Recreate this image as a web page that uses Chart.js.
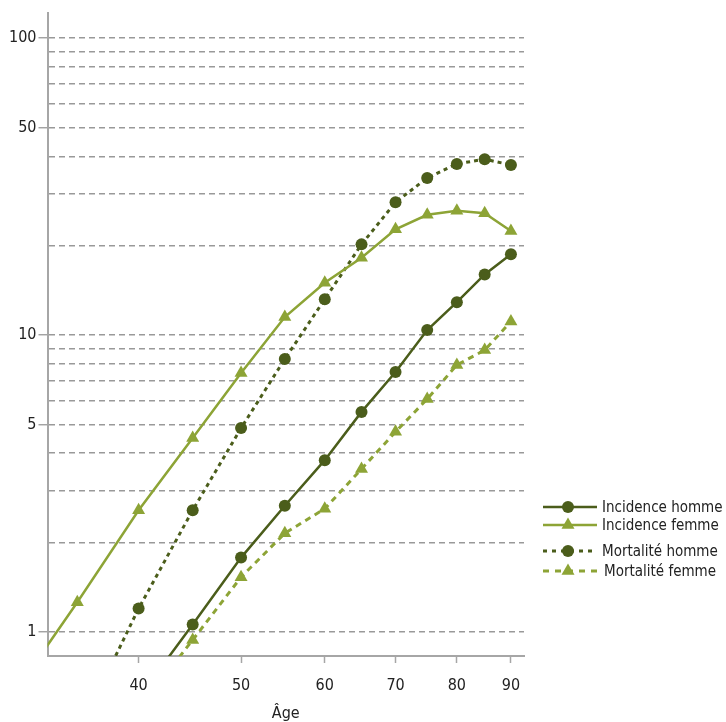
<!DOCTYPE html>
<html>
<head>
<meta charset="utf-8">
<style>
  html, body { margin: 0; padding: 0; background: #ffffff; }
  #wrap { width: 726px; height: 722px; }
</style>
<script src="https://cdn.jsdelivr.net/npm/chart.js@4.4.1/dist/chart.umd.min.js"></script>
</head>
<body>
<div id="wrap"><canvas id="c" width="726" height="722"></canvas></div>
<script>
const ages = [30, 35, 40, 45, 50, 55, 60, 65, 70, 75, 80, 85, 90];
const incidenceHomme = [null, null, 0.60, 1.06, 1.78, 2.66, 3.79, 5.51, 7.51, 10.4, 12.9, 16.0, 18.7];
const incidenceFemme = [0.57, 1.26, 2.57, 4.50, 7.45, 11.5, 15.0, 18.2, 22.7, 25.4, 26.2, 25.7, 22.4];
const mortaliteHomme = [null, 0.45, 1.20, 2.57, 4.86, 8.30, 13.2, 20.2, 28.0, 33.8, 37.7, 39.1, 37.4];
const mortaliteFemme = [null, null, 0.55, 0.94, 1.53, 2.15, 2.60, 3.54, 4.72, 6.09, 7.93, 8.90, 11.1];
const seriesNames = ['Incidence homme', 'Incidence femme', 'Mortalité homme', 'Mortalité femme'];
const xTicks = [40, 50, 60, 70, 80, 90];
const yTicks = [1, 2, 3, 4, 5, 6, 7, 8, 9, 10, 20, 30, 40, 50, 60, 70, 80, 90, 100];
const yLabels = [1, 5, 10, 50, 100];
const xTitle = 'Âge';

const DARK = '#4b5d1b';
const LIGHT = '#8da436';
const FONT = '"DejaVu Sans Condensed", "DejaVu Sans", sans-serif';

function pts(vals) {
  const out = [];
  vals.forEach((v, i) => { if (v !== null) out.push({ x: ages[i], y: v }); });
  return out;
}

const styles = [
  { color: DARK, point: 'circle', radius: 6, dash: [], width: 2.5 },
  { color: LIGHT, point: 'triangle', radius: 7.5, dash: [], width: 2.5 },
  { color: DARK, point: 'circle', radius: 6, dash: [4, 4], width: 3 },
  { color: LIGHT, point: 'triangle', radius: 7.5, dash: [6, 5], width: 3 }
];
const allData = [incidenceHomme, incidenceFemme, mortaliteHomme, mortaliteFemme];

const datasets = allData.map((vals, i) => ({
  label: seriesNames[i],
  data: pts(vals),
  borderColor: styles[i].color,
  backgroundColor: styles[i].color,
  borderWidth: styles[i].width,
  borderDash: styles[i].dash,
  pointStyle: styles[i].point,
  pointRadius: styles[i].radius,
  pointBorderWidth: 0,
  pointBackgroundColor: styles[i].color,
  tension: 0,
  clip: 0
}));

const legendPlugin = {
  id: 'customLegend',
  afterDraw(chart) {
    const ctx = chart.ctx;
    const rows = [507, 525, 551, 571];
    const x1 = 543, x2 = 597, mx = 568;
    ctx.save();
    rows.forEach((y, i) => {
      const s = styles[i];
      ctx.strokeStyle = s.color;
      ctx.lineWidth = s.width;
      ctx.setLineDash(i === 2 ? [4, 5] : (i === 3 ? [6, 6] : []));
      ctx.beginPath();
      ctx.moveTo(x1, y);
      ctx.lineTo(x2, y);
      ctx.stroke();
      ctx.setLineDash([]);
      ctx.fillStyle = s.color;
      ctx.beginPath();
      if (s.point === 'circle') {
        ctx.arc(mx, y, s.radius, 0, Math.PI * 2);
      } else {
        const r = s.radius;
        ctx.moveTo(mx, y - r);
        ctx.lineTo(mx + r * Math.cos(Math.PI / 6), y + r * 0.5);
        ctx.lineTo(mx - r * Math.cos(Math.PI / 6), y + r * 0.5);
        ctx.closePath();
      }
      ctx.fill();
      ctx.fillStyle = '#222222';
      ctx.font = '15px ' + FONT;
      ctx.textBaseline = 'middle';
      ctx.textAlign = 'left';
      ctx.fillText(seriesNames[i], i === 3 ? 604 : 602, y + 1);
    });
    ctx.restore();
  }
};

new Chart(document.getElementById('c'), {
  type: 'line',
  data: { datasets },
  options: {
    responsive: false,
    animation: false,
    devicePixelRatio: 1,
    layout: { padding: { left: 0, top: 13, right: 202, bottom: 0 } },
    plugins: { legend: { display: false }, tooltip: { enabled: false } },
    scales: {
      x: {
        type: 'logarithmic',
        min: 32.8,
        max: 92.6,
        afterBuildTicks(scale) { scale.ticks = xTicks.map(v => ({ value: v })); },
        afterFit(scale) { scale.height = 66; },
        ticks: {
          callback: (v) => String(v),
          color: '#222222',
          font: { family: FONT, size: 16 },
          padding: 13,
          maxRotation: 0,
          autoSkip: false
        },
        grid: {
          drawOnChartArea: false,
          drawTicks: true,
          tickLength: 7,
          tickColor: '#a6a6a6',
          tickWidth: 1.5
        },
        border: { display: true, color: '#a6a6a6', width: 2 },
        title: {
          display: true,
          text: xTitle,
          color: '#222222',
          font: { family: FONT, size: 16, lineHeight: 1.0 },
          padding: { top: 0, bottom: 0 }
        }
      },
      y: {
        type: 'logarithmic',
        min: 0.83,
        max: 121.5,
        afterBuildTicks(scale) { scale.ticks = yTicks.map(v => ({ value: v })); },
        afterFit(scale) { scale.width = 47.5; },
        ticks: {
          callback: (v) => (yLabels.includes(v) ? String(v) : ''),
          color: '#222222',
          font: { family: FONT, size: 16 },
          padding: 2,
          autoSkip: false
        },
        grid: {
          drawOnChartArea: true,
          color: '#999999',
          lineWidth: 1.5,
          drawTicks: true,
          tickLength: 9,
          tickWidth: 1.3,
          tickBorderDash: [],
          tickColor: (ctx) => (ctx.tick && yLabels.includes(ctx.tick.value) ? '#999999' : 'rgba(0,0,0,0)')
        },
        border: { display: true, color: '#a6a6a6', width: 2, dash: [6, 4] }
      }
    }
  },
  plugins: [legendPlugin]
});
</script>
</body>
</html>
